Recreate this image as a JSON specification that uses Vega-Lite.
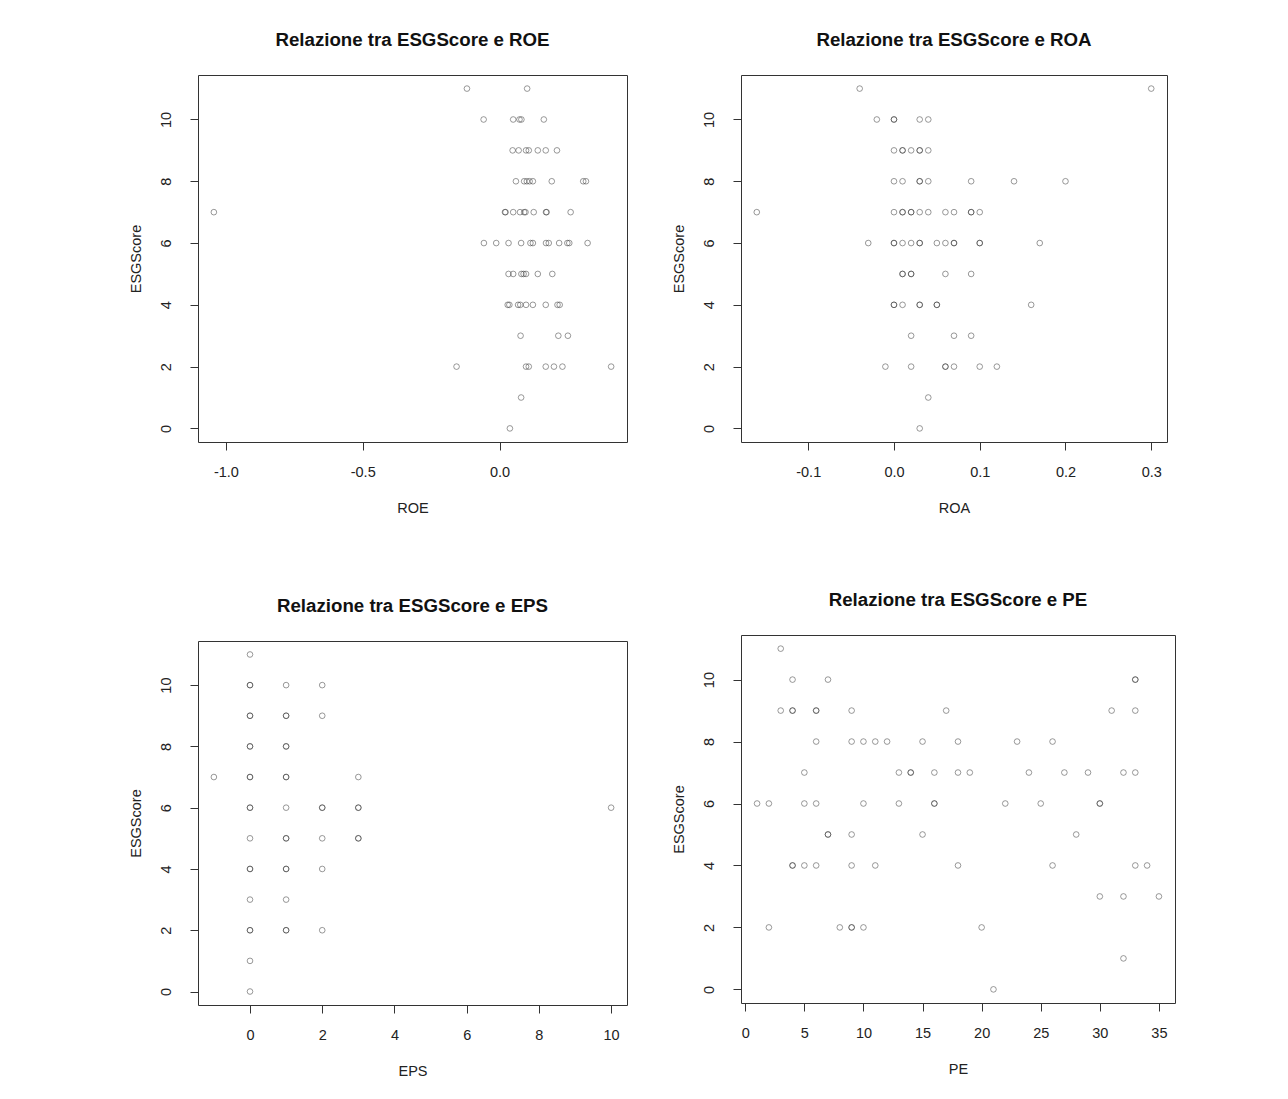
{
  "$schema": "https://vega.github.io/schema/vega-lite/v6.json",
  "background": "white",
  "padding": {"left": 127, "top": 30, "right": 5, "bottom": 5},
  "config": {
    "font": "Liberation Sans",
    "view": {"stroke": "#333", "strokeWidth": 1},
    "axis": {"grid": false, "domain": false, "ticks": true, "tickColor": "#333", "tickSize": 8, "tickWidth": 1,
      "labelFont": "Liberation Sans", "labelFontSize": 14.5, "labelColor": "#222",
      "titleFont": "Liberation Sans", "titleFontSize": 14.5, "titleFontWeight": "normal", "titleColor": "#222"},
    "axisX": {"labelPadding": 15, "titlePadding": 23},
    "axisY": {"labelAngle": -90, "labelAlign": "center", "labelBaseline": "bottom", "labelPadding": 17, "titlePadding": 15},
    "title": {"font": "Liberation Sans", "fontSize": 18.7, "fontWeight": "bold", "color": "#111", "offset": 25, "anchor": "middle"},
    "point": {"shape": "circle", "filled": false, "size": 32, "stroke": "#222", "strokeOpacity": 0.65, "strokeWidth": 1}
  },
  "datasets": {
    "roe": [
      {"ESGScore": 11, "ROE": -0.119}, {"ESGScore": 11, "ROE": 0.101},
      {"ESGScore": 10, "ROE": -0.058}, {"ESGScore": 10, "ROE": 0.05}, {"ESGScore": 10, "ROE": 0.073}, {"ESGScore": 10, "ROE": 0.08}, {"ESGScore": 10, "ROE": 0.162},
      {"ESGScore": 9, "ROE": 0.048}, {"ESGScore": 9, "ROE": 0.07}, {"ESGScore": 9, "ROE": 0.097}, {"ESGScore": 9, "ROE": 0.107}, {"ESGScore": 9, "ROE": 0.14}, {"ESGScore": 9, "ROE": 0.169}, {"ESGScore": 9, "ROE": 0.21},
      {"ESGScore": 8, "ROE": 0.06}, {"ESGScore": 8, "ROE": 0.09}, {"ESGScore": 8, "ROE": 0.1}, {"ESGScore": 8, "ROE": 0.11}, {"ESGScore": 8, "ROE": 0.122}, {"ESGScore": 8, "ROE": 0.191}, {"ESGScore": 8, "ROE": 0.306}, {"ESGScore": 8, "ROE": 0.316},
      {"ESGScore": 7, "ROE": -1.044}, {"ESGScore": 7, "ROE": 0.02}, {"ESGScore": 7, "ROE": 0.022}, {"ESGScore": 7, "ROE": 0.05}, {"ESGScore": 7, "ROE": 0.075}, {"ESGScore": 7, "ROE": 0.09}, {"ESGScore": 7, "ROE": 0.095}, {"ESGScore": 7, "ROE": 0.125}, {"ESGScore": 7, "ROE": 0.17}, {"ESGScore": 7, "ROE": 0.172}, {"ESGScore": 7, "ROE": 0.26},
      {"ESGScore": 6, "ROE": -0.057}, {"ESGScore": 6, "ROE": -0.012}, {"ESGScore": 6, "ROE": 0.033}, {"ESGScore": 6, "ROE": 0.079}, {"ESGScore": 6, "ROE": 0.113}, {"ESGScore": 6, "ROE": 0.122}, {"ESGScore": 6, "ROE": 0.17}, {"ESGScore": 6, "ROE": 0.18}, {"ESGScore": 6, "ROE": 0.218}, {"ESGScore": 6, "ROE": 0.248}, {"ESGScore": 6, "ROE": 0.255}, {"ESGScore": 6, "ROE": 0.322},
      {"ESGScore": 5, "ROE": 0.033}, {"ESGScore": 5, "ROE": 0.05}, {"ESGScore": 5, "ROE": 0.08}, {"ESGScore": 5, "ROE": 0.088}, {"ESGScore": 5, "ROE": 0.097}, {"ESGScore": 5, "ROE": 0.14}, {"ESGScore": 5, "ROE": 0.193},
      {"ESGScore": 4, "ROE": 0.03}, {"ESGScore": 4, "ROE": 0.036}, {"ESGScore": 4, "ROE": 0.068}, {"ESGScore": 4, "ROE": 0.076}, {"ESGScore": 4, "ROE": 0.097}, {"ESGScore": 4, "ROE": 0.122}, {"ESGScore": 4, "ROE": 0.169}, {"ESGScore": 4, "ROE": 0.212}, {"ESGScore": 4, "ROE": 0.22},
      {"ESGScore": 3, "ROE": 0.077}, {"ESGScore": 3, "ROE": 0.215}, {"ESGScore": 3, "ROE": 0.25},
      {"ESGScore": 2, "ROE": -0.157}, {"ESGScore": 2, "ROE": 0.097}, {"ESGScore": 2, "ROE": 0.107}, {"ESGScore": 2, "ROE": 0.169}, {"ESGScore": 2, "ROE": 0.199}, {"ESGScore": 2, "ROE": 0.23}, {"ESGScore": 2, "ROE": 0.408},
      {"ESGScore": 1, "ROE": 0.079},
      {"ESGScore": 0, "ROE": 0.038}
    ],
    "roa": [
      {"ESGScore": 11, "ROA": -0.04}, {"ESGScore": 11, "ROA": 0.30},
      {"ESGScore": 10, "ROA": -0.02}, {"ESGScore": 10, "ROA": 0.0}, {"ESGScore": 10, "ROA": 0.0}, {"ESGScore": 10, "ROA": 0.03}, {"ESGScore": 10, "ROA": 0.04},
      {"ESGScore": 9, "ROA": 0.0}, {"ESGScore": 9, "ROA": 0.01}, {"ESGScore": 9, "ROA": 0.01}, {"ESGScore": 9, "ROA": 0.02}, {"ESGScore": 9, "ROA": 0.03}, {"ESGScore": 9, "ROA": 0.03}, {"ESGScore": 9, "ROA": 0.04},
      {"ESGScore": 8, "ROA": 0.0}, {"ESGScore": 8, "ROA": 0.01}, {"ESGScore": 8, "ROA": 0.03}, {"ESGScore": 8, "ROA": 0.03}, {"ESGScore": 8, "ROA": 0.04}, {"ESGScore": 8, "ROA": 0.09}, {"ESGScore": 8, "ROA": 0.14}, {"ESGScore": 8, "ROA": 0.20},
      {"ESGScore": 7, "ROA": -0.16}, {"ESGScore": 7, "ROA": 0.0}, {"ESGScore": 7, "ROA": 0.01}, {"ESGScore": 7, "ROA": 0.01}, {"ESGScore": 7, "ROA": 0.02}, {"ESGScore": 7, "ROA": 0.02}, {"ESGScore": 7, "ROA": 0.03}, {"ESGScore": 7, "ROA": 0.04}, {"ESGScore": 7, "ROA": 0.06}, {"ESGScore": 7, "ROA": 0.07}, {"ESGScore": 7, "ROA": 0.09}, {"ESGScore": 7, "ROA": 0.09}, {"ESGScore": 7, "ROA": 0.10},
      {"ESGScore": 6, "ROA": -0.03}, {"ESGScore": 6, "ROA": 0.0}, {"ESGScore": 6, "ROA": 0.0}, {"ESGScore": 6, "ROA": 0.01}, {"ESGScore": 6, "ROA": 0.02}, {"ESGScore": 6, "ROA": 0.03}, {"ESGScore": 6, "ROA": 0.03}, {"ESGScore": 6, "ROA": 0.05}, {"ESGScore": 6, "ROA": 0.06}, {"ESGScore": 6, "ROA": 0.07}, {"ESGScore": 6, "ROA": 0.07}, {"ESGScore": 6, "ROA": 0.10}, {"ESGScore": 6, "ROA": 0.10}, {"ESGScore": 6, "ROA": 0.17},
      {"ESGScore": 5, "ROA": 0.01}, {"ESGScore": 5, "ROA": 0.01}, {"ESGScore": 5, "ROA": 0.02}, {"ESGScore": 5, "ROA": 0.02}, {"ESGScore": 5, "ROA": 0.06}, {"ESGScore": 5, "ROA": 0.09},
      {"ESGScore": 4, "ROA": 0.0}, {"ESGScore": 4, "ROA": 0.0}, {"ESGScore": 4, "ROA": 0.01}, {"ESGScore": 4, "ROA": 0.03}, {"ESGScore": 4, "ROA": 0.03}, {"ESGScore": 4, "ROA": 0.05}, {"ESGScore": 4, "ROA": 0.05}, {"ESGScore": 4, "ROA": 0.16},
      {"ESGScore": 3, "ROA": 0.02}, {"ESGScore": 3, "ROA": 0.07}, {"ESGScore": 3, "ROA": 0.09},
      {"ESGScore": 2, "ROA": -0.01}, {"ESGScore": 2, "ROA": 0.02}, {"ESGScore": 2, "ROA": 0.06}, {"ESGScore": 2, "ROA": 0.06}, {"ESGScore": 2, "ROA": 0.07}, {"ESGScore": 2, "ROA": 0.10}, {"ESGScore": 2, "ROA": 0.12},
      {"ESGScore": 1, "ROA": 0.04},
      {"ESGScore": 0, "ROA": 0.03}
    ],
    "eps": [
      {"ESGScore": 11, "EPS": 0},
      {"ESGScore": 10, "EPS": 0}, {"ESGScore": 10, "EPS": 0}, {"ESGScore": 10, "EPS": 1}, {"ESGScore": 10, "EPS": 2},
      {"ESGScore": 9, "EPS": 0}, {"ESGScore": 9, "EPS": 0}, {"ESGScore": 9, "EPS": 1}, {"ESGScore": 9, "EPS": 1}, {"ESGScore": 9, "EPS": 2},
      {"ESGScore": 8, "EPS": 0}, {"ESGScore": 8, "EPS": 0}, {"ESGScore": 8, "EPS": 1}, {"ESGScore": 8, "EPS": 1},
      {"ESGScore": 7, "EPS": -1}, {"ESGScore": 7, "EPS": 0}, {"ESGScore": 7, "EPS": 0}, {"ESGScore": 7, "EPS": 1}, {"ESGScore": 7, "EPS": 1}, {"ESGScore": 7, "EPS": 3},
      {"ESGScore": 6, "EPS": 0}, {"ESGScore": 6, "EPS": 0}, {"ESGScore": 6, "EPS": 1}, {"ESGScore": 6, "EPS": 2}, {"ESGScore": 6, "EPS": 2}, {"ESGScore": 6, "EPS": 3}, {"ESGScore": 6, "EPS": 3}, {"ESGScore": 6, "EPS": 10},
      {"ESGScore": 5, "EPS": 0}, {"ESGScore": 5, "EPS": 1}, {"ESGScore": 5, "EPS": 1}, {"ESGScore": 5, "EPS": 2}, {"ESGScore": 5, "EPS": 3}, {"ESGScore": 5, "EPS": 3},
      {"ESGScore": 4, "EPS": 0}, {"ESGScore": 4, "EPS": 0}, {"ESGScore": 4, "EPS": 1}, {"ESGScore": 4, "EPS": 1}, {"ESGScore": 4, "EPS": 2},
      {"ESGScore": 3, "EPS": 0}, {"ESGScore": 3, "EPS": 1},
      {"ESGScore": 2, "EPS": 0}, {"ESGScore": 2, "EPS": 0}, {"ESGScore": 2, "EPS": 1}, {"ESGScore": 2, "EPS": 1}, {"ESGScore": 2, "EPS": 2},
      {"ESGScore": 1, "EPS": 0},
      {"ESGScore": 0, "EPS": 0}
    ],
    "pe": [
      {"ESGScore": 11, "PE": 3},
      {"ESGScore": 10, "PE": 4}, {"ESGScore": 10, "PE": 7}, {"ESGScore": 10, "PE": 33}, {"ESGScore": 10, "PE": 33},
      {"ESGScore": 9, "PE": 3}, {"ESGScore": 9, "PE": 4}, {"ESGScore": 9, "PE": 4}, {"ESGScore": 9, "PE": 6}, {"ESGScore": 9, "PE": 6}, {"ESGScore": 9, "PE": 9}, {"ESGScore": 9, "PE": 17}, {"ESGScore": 9, "PE": 31}, {"ESGScore": 9, "PE": 33},
      {"ESGScore": 8, "PE": 6}, {"ESGScore": 8, "PE": 9}, {"ESGScore": 8, "PE": 10}, {"ESGScore": 8, "PE": 11}, {"ESGScore": 8, "PE": 12}, {"ESGScore": 8, "PE": 15}, {"ESGScore": 8, "PE": 18}, {"ESGScore": 8, "PE": 23}, {"ESGScore": 8, "PE": 26},
      {"ESGScore": 7, "PE": 5}, {"ESGScore": 7, "PE": 13}, {"ESGScore": 7, "PE": 14}, {"ESGScore": 7, "PE": 14}, {"ESGScore": 7, "PE": 16}, {"ESGScore": 7, "PE": 18}, {"ESGScore": 7, "PE": 19}, {"ESGScore": 7, "PE": 24}, {"ESGScore": 7, "PE": 27}, {"ESGScore": 7, "PE": 29}, {"ESGScore": 7, "PE": 32}, {"ESGScore": 7, "PE": 33},
      {"ESGScore": 6, "PE": 1}, {"ESGScore": 6, "PE": 2}, {"ESGScore": 6, "PE": 5}, {"ESGScore": 6, "PE": 6}, {"ESGScore": 6, "PE": 10}, {"ESGScore": 6, "PE": 13}, {"ESGScore": 6, "PE": 16}, {"ESGScore": 6, "PE": 16}, {"ESGScore": 6, "PE": 22}, {"ESGScore": 6, "PE": 25}, {"ESGScore": 6, "PE": 30}, {"ESGScore": 6, "PE": 30},
      {"ESGScore": 5, "PE": 7}, {"ESGScore": 5, "PE": 7}, {"ESGScore": 5, "PE": 9}, {"ESGScore": 5, "PE": 15}, {"ESGScore": 5, "PE": 28},
      {"ESGScore": 4, "PE": 4}, {"ESGScore": 4, "PE": 4}, {"ESGScore": 4, "PE": 5}, {"ESGScore": 4, "PE": 6}, {"ESGScore": 4, "PE": 9}, {"ESGScore": 4, "PE": 11}, {"ESGScore": 4, "PE": 18}, {"ESGScore": 4, "PE": 26}, {"ESGScore": 4, "PE": 33}, {"ESGScore": 4, "PE": 34},
      {"ESGScore": 3, "PE": 30}, {"ESGScore": 3, "PE": 32}, {"ESGScore": 3, "PE": 35},
      {"ESGScore": 2, "PE": 2}, {"ESGScore": 2, "PE": 8}, {"ESGScore": 2, "PE": 9}, {"ESGScore": 2, "PE": 9}, {"ESGScore": 2, "PE": 10}, {"ESGScore": 2, "PE": 20},
      {"ESGScore": 1, "PE": 32},
      {"ESGScore": 0, "PE": 21}
    ]
  },
  "spacing": 42,
  "hconcat": [
    {
      "spacing": 80,
      "vconcat": [
        {
          "title": "Relazione tra ESGScore e ROE",
          "width": 429, "height": 367,
          "data": {"name": "roe"},
          "mark": {"type": "point"},
          "encoding": {
            "x": {"field": "ROE", "type": "quantitative", "scale": {"domain": [-1.102, 0.466], "nice": false, "zero": false},
              "axis": {"values": [-1, -0.5, 0], "labelExpr": "replace(format(datum.value, '.1f'), '−', '-')", "title": "ROE"}},
            "y": {"field": "ESGScore", "type": "quantitative", "scale": {"domain": [-0.44, 11.44], "nice": false, "zero": false},
              "axis": {"values": [0, 2, 4, 6, 8, 10], "title": "ESGScore"}}
          }
        },
        {
          "title": "Relazione tra ESGScore e EPS",
          "width": 429, "height": 364,
          "data": {"name": "eps"},
          "mark": {"type": "point"},
          "encoding": {
            "x": {"field": "EPS", "type": "quantitative", "scale": {"domain": [-1.44, 10.44], "nice": false, "zero": false},
              "axis": {"values": [0, 2, 4, 6, 8, 10], "title": "EPS"}},
            "y": {"field": "ESGScore", "type": "quantitative", "scale": {"domain": [-0.44, 11.44], "nice": false, "zero": false},
              "axis": {"values": [0, 2, 4, 6, 8, 10], "title": "ESGScore"}}
          }
        }
      ]
    },
    {
      "spacing": 74,
      "vconcat": [
        {
          "title": "Relazione tra ESGScore e ROA",
          "width": 426, "height": 367,
          "data": {"name": "roa"},
          "mark": {"type": "point"},
          "encoding": {
            "x": {"field": "ROA", "type": "quantitative", "scale": {"domain": [-0.1784, 0.3184], "nice": false, "zero": false},
              "axis": {"values": [-0.1, 0, 0.1, 0.2, 0.3], "labelExpr": "replace(format(datum.value, '.1f'), '−', '-')", "title": "ROA"}},
            "y": {"field": "ESGScore", "type": "quantitative", "scale": {"domain": [-0.44, 11.44], "nice": false, "zero": false},
              "axis": {"values": [0, 2, 4, 6, 8, 10], "title": "ESGScore"}}
          }
        },
        {
          "title": "Relazione tra ESGScore e PE",
          "width": 434, "height": 368,
          "data": {"name": "pe"},
          "mark": {"type": "point"},
          "encoding": {
            "x": {"field": "PE", "type": "quantitative", "scale": {"domain": [-0.36, 36.36], "nice": false, "zero": false},
              "axis": {"values": [0, 5, 10, 15, 20, 25, 30, 35], "title": "PE"}},
            "y": {"field": "ESGScore", "type": "quantitative", "scale": {"domain": [-0.44, 11.44], "nice": false, "zero": false},
              "axis": {"values": [0, 2, 4, 6, 8, 10], "title": "ESGScore"}}
          }
        }
      ]
    }
  ]
}
